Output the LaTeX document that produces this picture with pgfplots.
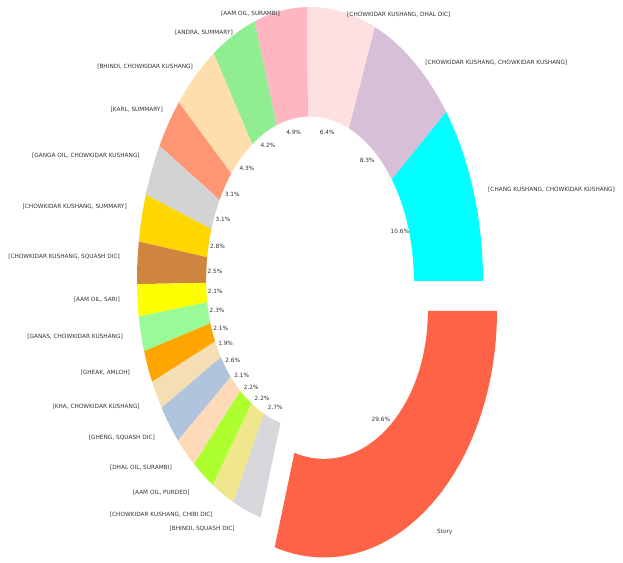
\documentclass[border=0pt]{standalone}
\usepackage{pgfplots}
\usepackage{pgfplotstable}
\pgfplotsset{compat=1.18}
\usepackage{fontspec}
\setmainfont{DejaVu Sans}

\definecolor{w01}{RGB}{0,255,255}
\definecolor{w02}{RGB}{216,191,216}
\definecolor{w03}{RGB}{255,224,224}
\definecolor{w04}{RGB}{255,182,193}
\definecolor{w05}{RGB}{144,238,144}
\definecolor{w06}{RGB}{255,222,173}
\definecolor{w07}{RGB}{255,150,115}
\definecolor{w08}{RGB}{211,211,211}
\definecolor{w09}{RGB}{255,215,0}
\definecolor{w10}{RGB}{205,133,63}
\definecolor{w11}{RGB}{255,255,0}
\definecolor{w12}{RGB}{152,251,152}
\definecolor{w13}{RGB}{255,165,0}
\definecolor{w14}{RGB}{245,222,179}
\definecolor{w15}{RGB}{176,196,222}
\definecolor{w16}{RGB}{255,218,185}
\definecolor{w17}{RGB}{173,255,47}
\definecolor{w18}{RGB}{240,230,140}
\definecolor{w19}{RGB}{215,215,220}
\definecolor{w20}{RGB}{255,99,71}

% share (%), colour, label position (axis units), label anchor, label
\pgfplotstableread[col sep=semicolon]{
pct;col;lx;ly;anc;lab
10.6;w01;1.029;0.332;west;[CHANG KUSHANG, CHOWKIDAR KUSHANG]
8.3;w02;0.665;0.796;west;[CHOWKIDAR KUSHANG, CHOWKIDAR KUSHANG]
6.4;w03;0.214;0.971;west;[CHOWKIDAR KUSHANG, DHAL DIC]
4.9;w04;-0.173;0.974;east;[AAM OIL, SURAMBI]
4.2;w05;-0.445;0.905;east;[ANDRA, SUMMARY]
4.3;w06;-0.676;0.781;east;[BHINDI, CHOWKIDAR KUSHANG]
3.1;w07;-0.850;0.624;east;[KARL, SUMMARY]
3.1;w08;-0.983;0.456;east;[GANGA OIL, CHOWKIDAR KUSHANG]
2.8;w09;-1.058;0.270;east;[CHOWKIDAR KUSHANG, SUMMARY]
2.5;w10;-1.098;0.088;east;[CHOWKIDAR KUSHANG, SQUASH DIC]
2.1;w11;-1.098;-0.069;east;[AAM OIL, SARI]
2.3;w12;-1.081;-0.204;east;[GANAS, CHOWKIDAR KUSHANG]
2.1;w13;-1.040;-0.336;east;[GHEAK, AMLOH]
1.9;w14;-0.983;-0.460;east;[KHA, CHOWKIDAR KUSHANG]
2.6;w15;-0.896;-0.573;east;[GHENG, SQUASH DIC]
2.1;w16;-0.798;-0.682;east;[DHAL OIL, SURAMBI]
2.2;w17;-0.694;-0.774;east;[AAM OIL, PURDED]
2.2;w18;-0.561;-0.854;east;[CHOWKIDAR KUSHANG, CHIBI DIC]
2.7;w19;-0.434;-0.905;east;[BHINDI, SQUASH DIC]
29.6;w20;0.734;-0.916;west;Story
}\piedata

\newcommand\lbl{\fontsize{5.8}{7}\selectfont}
\def\kb{0.9}
\def\edx{0.081}
\def\edy{-0.109}

\begin{document}
\begin{tikzpicture}
\begin{axis}[
  width=623bp, height=563bp, scale only axis,
  xmin=-1.7919, xmax=1.8092, ymin=-1.0292, ymax=1.0255,
  hide axis, clip=false, set layers,
]
\def\cum{0}
\pgfplotsforeachungrouped \i in {0,...,19}{%
  \pgfplotstablegetelem{\i}{pct}\of\piedata\let\p\pgfplotsretval
  \pgfplotstablegetelem{\i}{col}\of\piedata\let\c\pgfplotsretval
  \pgfplotstablegetelem{\i}{lx}\of\piedata\let\lx\pgfplotsretval
  \pgfplotstablegetelem{\i}{ly}\of\piedata\let\ly\pgfplotsretval
  \pgfplotstablegetelem{\i}{anc}\of\piedata\let\anc\pgfplotsretval
  \pgfplotstablegetelem{\i}{lab}\of\piedata\let\lab\pgfplotsretval
  \pgfmathsetmacro\a{3.6*\cum}
  \pgfmathsetmacro\cum{\cum+\p}
  \pgfmathsetmacro\b{3.6*\cum}
  \pgfmathsetmacro\m{(\a+\b)/2}
  \ifnum\i=19 \let\dx\edx\let\dy\edy\def\lay{axis background}%
  \else\def\dx{0}\def\dy{0}\def\lay{axis grid}\fi
  \pgfmathsetmacro\px{\dx+0.55*cos(\m)}
  \pgfmathsetmacro\py{\dy+0.55*sin(\m)*(sin(\m)<0?\kb:1)}
  \edef\cmd{%
    \noexpand\addplot[on layer=\lay, fill=\c, draw=none, domain=\a:\b, samples=90]
      ({\dx+cos(x)},{\dy+sin(x)*(sin(x)<0?\kb:1)}) -- (axis cs:\dx,\dy) -- cycle;
    \noexpand\node[font=\noexpand\lbl, text=black!80] at (axis cs:\px,\py) {\p\noexpand\%};
    \noexpand\node[font=\noexpand\lbl, text=black!80, anchor=\anc, inner sep=0pt] at (axis cs:\lx,\ly) {\lab};
  }\cmd
}
% holes of the ring: the exploded slice, then the rest
\addplot[on layer=axis background, fill=white, draw=none, domain=0:360, samples=200]
  ({\edx+0.6*cos(x)},{\edy+0.6*sin(x)*(sin(x)<0?\kb:1)}) -- cycle;
\addplot[on layer=axis ticks, fill=white, draw=none, domain=0:360, samples=200]
  ({0.6*cos(x)},{0.6*sin(x)*(sin(x)<0?\kb:1)}) -- cycle;
\end{axis}
\pgfresetboundingbox
\path (current axis.south west) rectangle (current axis.north east);
\end{tikzpicture}
\end{document}
